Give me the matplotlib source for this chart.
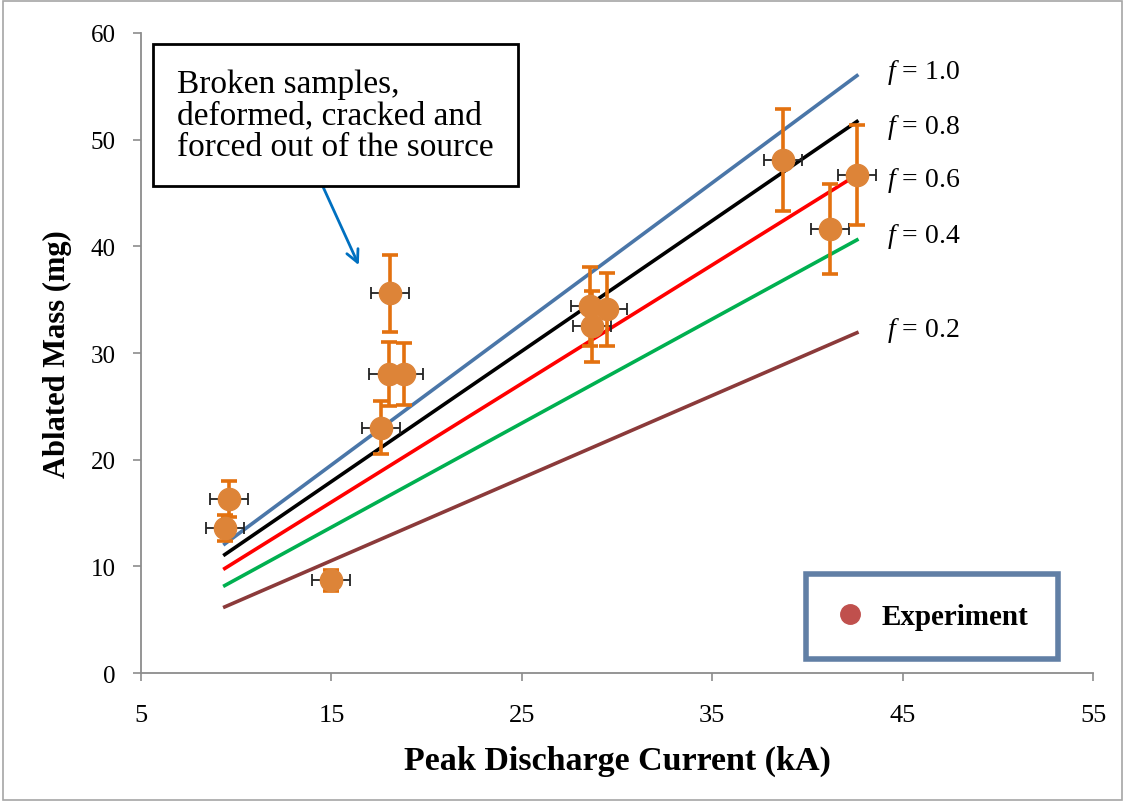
import matplotlib.pyplot as plt
from matplotlib.lines import Line2D
from matplotlib.patches import Rectangle

plt.rcParams["font.family"] = ["Liberation Serif", "DejaVu Serif"]
plt.rcParams["mathtext.fontset"] = "custom"
plt.rcParams["mathtext.it"] = "Liberation Serif:italic"
plt.rcParams["mathtext.rm"] = "Liberation Serif"

# experiment
current = [9.6, 9.4, 15.0, 17.6, 18.1, 18.0, 18.8, 28.6, 28.7, 29.5, 38.7, 41.2, 42.6]
mass = [16.3, 13.6, 8.7, 23.0, 35.6, 28.0, 28.0, 34.4, 32.5, 34.1, 48.1, 41.6, 46.7]
mass_err = [1.7, 1.2, 1.0, 2.5, 3.6, 3.0, 2.9, 3.7, 3.3, 3.4, 4.8, 4.2, 4.7]
current_err = [1.0, 1.0, 1.0, 1.0, 1.0, 1.0, 1.0, 1.0, 1.0, 1.0, 1.0, 1.0, 1.0]

# model lines (f values)
line_x = [9.4, 42.6]
f_labels = ["1.0", "0.8", "0.6", "0.4", "0.2"]
f_lines = {
    "1.0": [12.1, 56.0],
    "0.8": [11.1, 51.7],
    "0.6": [9.8, 46.7],
    "0.4": [8.2, 40.6],
    "0.2": [6.2, 31.9],
}
f_label_y = [56.4, 51.2, 46.3, 41.0, 32.2]
f_colors = ["#4a76a8", "#000000", "#ff0000", "#00b050", "#8b3a3a"]

fig = plt.figure(figsize=(11.25, 8.03), dpi=100)
ax = fig.add_axes([0.1253, 0.1606, 0.8463, 0.7971])

for lab, c in zip(f_labels, f_colors):
    ax.plot(line_x, f_lines[lab], color=c, lw=2.6, zorder=2)

for lab, ly in zip(f_labels, f_label_y):
    ax.text(44.2, ly, r"$f$" + " = " + lab, fontsize=20, va="center", ha="left")

ax.errorbar(current, mass, xerr=current_err, fmt="none", ecolor="#222222",
            elinewidth=1.3, capsize=4, capthick=1.3, zorder=3)
ax.errorbar(current, mass, yerr=mass_err, fmt="none", ecolor="#e3710f",
            elinewidth=2.6, capsize=6, capthick=2.6, zorder=4)
ax.plot(current, mass, "o", color="#dd8438", ms=16, zorder=5)

ax.set_xlim(5, 55)
ax.set_ylim(0, 60)
ax.set_xticks(range(5, 56, 10))
ax.set_yticks(range(0, 61, 10))
for s in ["top", "right"]:
    ax.spines[s].set_visible(False)
for s in ["left", "bottom"]:
    ax.spines[s].set_color("#8c8c8c")
    ax.spines[s].set_linewidth(1.3)
ax.tick_params(direction="out", length=6, width=1.2, color="#8c8c8c")
ax.tick_params(axis="x", labelsize=19, pad=16)
ax.tick_params(axis="y", labelsize=18, pad=12)

ax.set_xlabel("Peak Discharge Current (kA)", fontsize=24.5, fontweight="bold",
              labelpad=14)
ax.set_ylabel("Ablated Mass (mg)", fontsize=22, fontweight="bold", labelpad=14)

ax.annotate("", xy=(16.5, 38.0), xytext=(14.3, 46.6),
            arrowprops=dict(arrowstyle="->", color="#0070c0", lw=2,
                            mutation_scale=22), zorder=6)
ax.text(6.9, 56.7, "Broken samples,\ndeformed, cracked and\nforced out of the source",
        fontsize=24, va="top", ha="left", linespacing=1.05, zorder=7,
        bbox=dict(boxstyle="square,pad=0.72", fc="white", ec="black", lw=2))

handle = Line2D([], [], marker="o", ls="none", color="#c0504d", ms=14)
leg = ax.legend([handle], ["Experiment"], loc="lower right",
                bbox_to_anchor=(0.963, 0.022), frameon=True, fancybox=False,
                prop=dict(weight="bold", size=21),
                borderpad=1.0, handletextpad=0.6, handlelength=1.0,
                borderaxespad=0)
leg.get_frame().set_edgecolor("#3a5f8f")
leg.get_frame().set_linewidth(4)

fig.patches.append(Rectangle((0.003, 0.003), 0.994, 0.994, transform=fig.transFigure,
                             fill=False, ec="#a6a6a6", lw=1.2))

fig.savefig("out.png", dpi=100)
